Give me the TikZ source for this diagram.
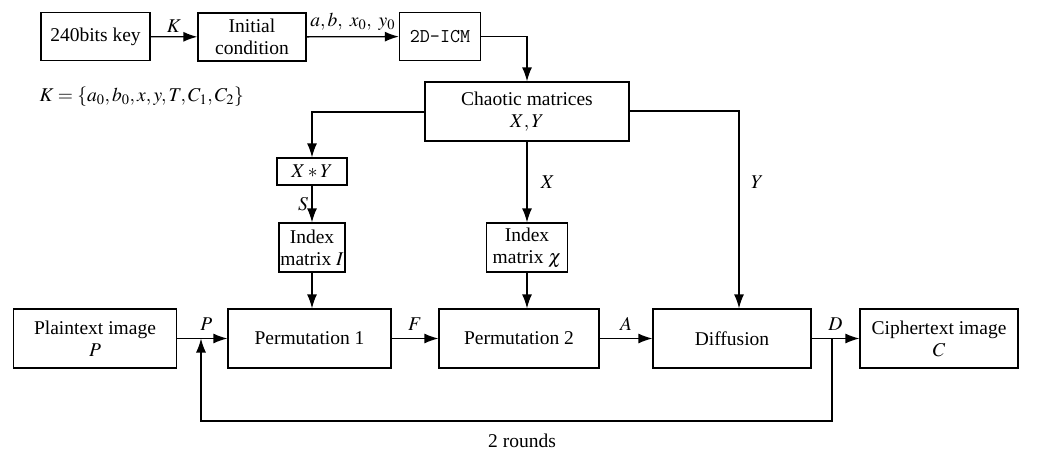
\documentclass[tikz,border=0pt]{standalone}
\usepackage{mathptmx}
\usepackage{fontspec}
\setmainfont{Liberation Serif}
\usepackage{amsmath}
\usetikzlibrary{positioning}
\usetikzlibrary{arrows.meta,calc}

\begin{document}
\begin{tikzpicture}[x=1pt,y=-1pt,
    font=\rmfamily\fontsize{19.5}{22}\selectfont,
    basic/.style={draw,line width=1.3pt,inner sep=0pt,align=center},
    block/.style={basic,minimum width=160pt,minimum height=59pt},
    small/.style={basic,minimum height=48pt},
    arr/.style={line width=1.3pt,-{Latex[length=14pt,width=10pt]}},
]
\useasboundingbox (0,0) rectangle (1038,450);
        \node[small,minimum width=109pt] (key) at (95.5,36.5) {240bits key};
        \node[small,minimum width=108pt] (init) at (252,37) {Initial\\condition};
        \node[small,minimum width=81pt] (icm) at (440,36.5) {\ttfamily\fontsize{19.5}{22}\selectfont 2D-ICM};
            \path[draw,arr] (key) -- node[above,midway]{$K$} (init);
            \path[draw,arr] (init) -- node[above,midway,yshift=2pt]{$a, b,\ x_0,\ y_0$} (icm);
        \node[anchor=west] (kset) at (36,97) {$K=\{a_0,b_0,x,y,T,C_1,C_2\}$};
        \node[basic,minimum width=204pt,minimum height=59pt] (chaos) at (527,111.5) {Chaotic matrices\\$X,Y$};
            \path[draw,arr] (icm.east) -| (chaos.north);
        \node[basic,minimum width=70pt,minimum height=27pt] (xy) at (312,171.5) {$X*Y$};
        \node[small,minimum width=66pt,minimum height=49pt] (idxI) at (312,247.5) {Index\\matrix $I$};
        \node[small,minimum width=81pt,minimum height=49pt] (idxX) at (527,247.5) {Index\\matrix $\chi$};
            \path[draw,arr] (chaos.west|-0,112) -| (xy.north);
            \path[draw,arr] (xy) -- node[left,midway]{$S$} (idxI);
            \path[draw,arr] (chaos) -- node[right,midway,xshift=10pt]{$X$} (idxX);
        \node[block,minimum width=163pt] (plain) at (95,338.5) {Plaintext image\\$P$};
        \node[block,minimum width=163pt] (perm1) at (309.5,338.5) {Permutation 1};
        \node[block] (perm2) at (519,338.5) {Permutation 2};
        \node[block,minimum width=158pt] (diff) at (732,338.5) {Diffusion};
        \node[block,minimum width=158pt] (ciph) at (939,338.5) {Ciphertext image\\$C$};
            \path[draw,arr] (chaos.east|-0,111) -| node[right,pos=0.68,xshift=8pt]{$Y$} (739,0|-diff.north);
            \path[draw,arr] (idxI) -- (perm1.north-|idxI);
            \path[draw,arr] (idxX) -- (perm2.north-|idxX);
            \path[draw,arr] (plain) -- node[above,midway,yshift=4pt,xshift=4pt]{$P$} (perm1);
            \path[draw,arr] (perm1) -- node[above,midway,yshift=4pt]{$F$} (perm2);
            \path[draw,arr] (perm2) -- node[above,midway,yshift=4pt]{$A$} (diff);
            \path[draw,arr] (diff) -- node[above,midway,yshift=4pt]{$D$} (ciph);
        \coordinate (split) at (832,338.5);
        \coordinate (join) at (201,338.5);
            \path[draw,arr] (split) -- (832,421) -- (201,421) -- (join);
        \node (rounds) at (522,441) {2 rounds};
\end{tikzpicture}
\end{document}
